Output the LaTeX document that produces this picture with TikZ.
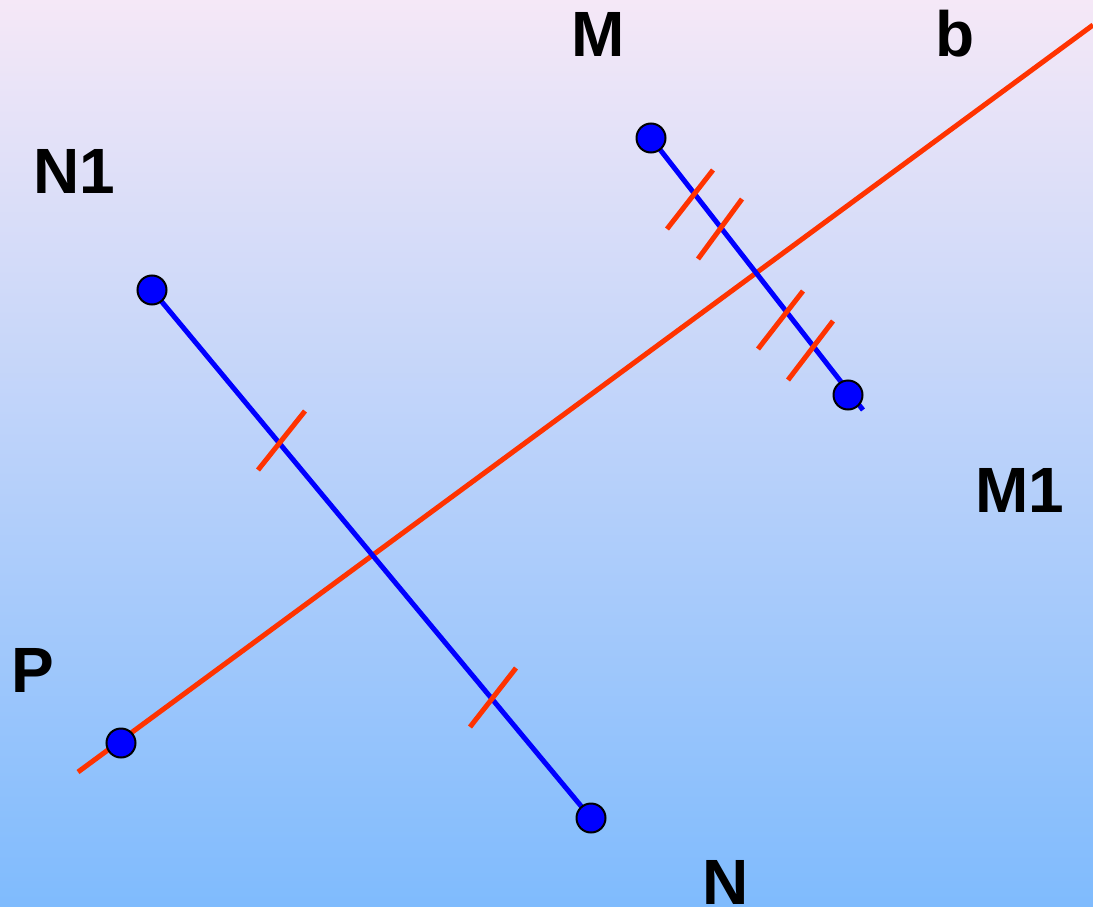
\documentclass[tikz,border=0pt]{standalone}
\usepackage{fontspec}
\setmainfont{Liberation Sans}
\begin{document}
\begin{tikzpicture}[x=1pt,y=-1pt,
  redline/.style={draw={rgb,255:red,255;green,51;blue,0},line width=5pt},
  blueline/.style={draw={rgb,255:red,0;green,0;blue,255},line width=5pt},
  dot/.style={circle,fill={rgb,255:red,0;green,0;blue,255},draw=black,line width=2pt,minimum size=29pt,inner sep=0pt},
  lbl/.style={font=\fontsize{64}{70}\selectfont\bfseries,anchor=base,inner sep=0pt}]
\useasboundingbox (0,0) rectangle (1093,907);
\shade[top color={rgb,255:red,245;green,232;blue,247},bottom color={rgb,255:red,127;green,187;blue,253}] (0,0) rectangle (1093,907);
% points
\coordinate (bs) at (78,772);
\coordinate (be) at (1093,25);
\coordinate (M1end) at (863,410);
% red line b
\draw[redline] (bs) -- (be);
% blue segments (centers)
\coordinate (cN1) at (152,290);
\coordinate (cN) at (591,818);
\coordinate (cM) at (651,138);
\coordinate (cM1) at (848,395);
\coordinate (cP) at (121,743);
\draw[blueline] (cN1) -- (cN);
\draw[blueline] (cM) -- (M1end);
% ticks
\draw[redline] (258,470) -- (305,411);
\draw[redline] (470,727) -- (516,668);
\draw[redline] (667,229) -- (713,170);
\draw[redline] (698,259) -- (742,199);
\draw[redline] (758,349) -- (803,291);
\draw[redline] (788,380) -- (833,321);
% dots
\node[dot] (dN1) at (cN1) {};
\node[dot] (dN) at (cN) {};
\node[dot] (dM) at (cM) {};
\node[dot] (dM1) at (cM1) {};
\node[dot] (dP) at (cP) {};
% labels
\node[lbl] (lM) at (598,57) {M};
\node[lbl] (lb) at (955,57) {b};
\node[lbl] (lN1) at (74,193) {N1};
\node[lbl] (lM1) at (1020,512) {M1};
\node[lbl] (lP) at (33,692) {P};
\node[lbl] (lN) at (726,904) {N};
\end{tikzpicture}
\end{document}
